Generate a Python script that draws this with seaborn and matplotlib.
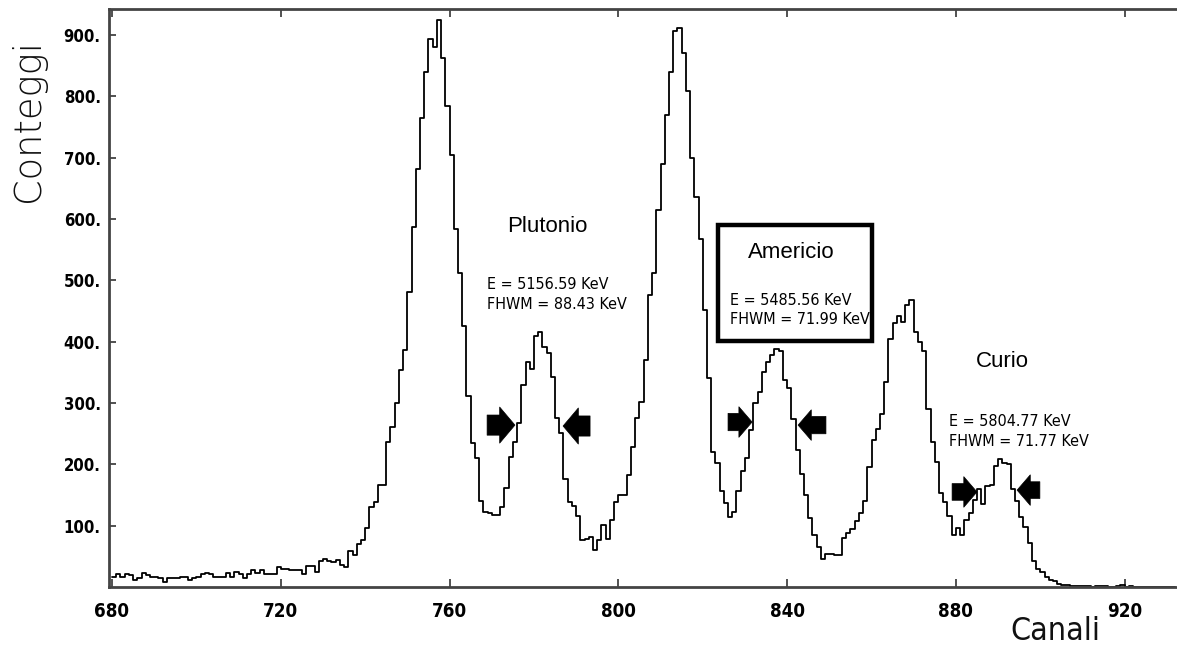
import numpy as np
import pandas as pd
import matplotlib
matplotlib.use("Agg")
import matplotlib.pyplot as plt
from matplotlib.ticker import FixedLocator, FuncFormatter
from matplotlib.patches import Rectangle
from matplotlib import font_manager
import seaborn as sns

# ---- data -------------------------------------------------------------
first_channel = 680
counts = [
    16, 21, 17, 21, 19, 11, 15, 23, 19, 16,      # 680-689
    16, 15, 8, 15, 15, 15, 17, 17, 11, 14,       # 690-699
    17, 22, 23, 21, 16, 16, 16, 23, 16, 24,      # 700-709
    22, 14, 22, 27, 23, 28, 22, 21, 21, 32,      # 710-719
    30, 30, 28, 28, 28, 21, 35, 34, 24, 42,      # 720-729
    45, 42, 41, 44, 36, 33, 58, 52, 70, 76,      # 730-739
    97, 130, 139, 166, 166, 236, 261, 300, 354, 387,   # 740-749
    481, 587, 682, 765, 840, 893, 881, 924, 863, 785,  # 750-759
    705, 584, 512, 426, 311, 235, 210, 140, 123, 120,  # 760-769
    118, 118, 131, 161, 212, 237, 267, 329, 367, 355,  # 770-779
    409, 416, 392, 381, 343, 275, 251, 176, 139, 132,  # 780-789
    115, 76, 79, 81, 60, 76, 101, 78, 109, 139,        # 790-799
    150, 150, 183, 228, 275, 302, 370, 476, 512, 615,  # 800-809
    690, 769, 840, 906, 912, 871, 809, 699, 636, 567,  # 810-819
    452, 341, 220, 202, 156, 137, 114, 122, 156, 189,  # 820-829
    210, 256, 300, 318, 350, 367, 378, 388, 385, 338,  # 830-839
    324, 274, 223, 185, 150, 112, 84, 66, 46, 54,      # 840-849
    54, 52, 52, 80, 88, 94, 107, 120, 140, 195,        # 850-859
    240, 258, 282, 335, 405, 430, 442, 432, 460, 468,  # 860-869
    416, 400, 385, 291, 237, 204, 153, 139, 115, 85,   # 870-879
    96, 85, 109, 120, 142, 160, 135, 165, 166, 198,    # 880-889
    208, 202, 200, 160, 141, 114, 98, 71, 42, 30,      # 890-899
    24, 16, 12, 9, 5, 3, 3, 2, 2, 2,                   # 900-909
    2, 2, 0, 2, 2, 2, 0, 0, 2, 3,                      # 910-919
    0, 2, 0, 0, 0, 0, 0, 0, 0, 0,                      # 920-929
    0, 0,                                              # 930-931
]
channels = list(range(first_channel, first_channel + len(counts)))

x_ticks = [680, 720, 760, 800, 840, 880, 920]
y_ticks = [100, 200, 300, 400, 500, 600, 700, 800, 900]

peak_names = ["Plutonio", "Americio", "Curio"]
peak_info = ["E = 5156.59 KeV\nFHWM = 88.43 KeV",
             "E = 5485.56 KeV\nFHWM = 71.99 KeV",
             "E = 5804.77 KeV\nFHWM = 71.77 KeV"]
x_label = "Canali"
y_label = "Conteggi"

# ---- figure -----------------------------------------------------------
sns.set_style("white")
plt.rcParams["font.family"] = ["Liberation Sans", "DejaVu Sans"]
plt.rcParams["text.color"] = "black"

# condensed face for the narrow texts
cond_regular = font_manager.FontProperties(family="DejaVu Sans", stretch="condensed")
cond_bold = font_manager.FontProperties(family="DejaVu Sans", stretch="condensed",
                                        weight="bold")

fig = plt.figure(figsize=(11.77, 6.54), dpi=100)
ax = fig.add_axes([109 / 1177, 1 - 587 / 654, 1 - 109 / 1177, (587 - 9) / 654])

df = pd.DataFrame({"channel": channels, "count": counts})
sns.histplot(data=df, x="channel", weights="count", binwidth=1,
             binrange=(first_channel, first_channel + len(counts)),
             element="step", fill=False, color="black", linewidth=1.3, ax=ax)

ax.set_xlim(679.29, 932.4)
ax.set_ylim(0, 942.5)
ax.set_xlabel("")
ax.set_ylabel("")

ax.xaxis.set_major_locator(FixedLocator(x_ticks))
ax.yaxis.set_major_locator(FixedLocator(y_ticks))
ax.yaxis.set_major_formatter(FuncFormatter(lambda v, p: f"{int(v)}."))
ax.tick_params(axis="x", direction="in", length=6, width=1.2, colors="#333333",
               top=True, bottom=True, pad=11, labelcolor="black")
ax.tick_params(axis="y", direction="in", length=5, width=1.2, colors="#333333",
               left=True, right=False, pad=6, labelcolor="black")
for lab in ax.get_xticklabels():
    lab.set_fontproperties(cond_bold)
    lab.set_fontsize(13.5)
for lab in ax.get_yticklabels():
    lab.set_fontproperties(cond_bold)
    lab.set_fontsize(12)

for side in ["left", "bottom", "top"]:
    ax.spines[side].set_color("#444444")
    ax.spines[side].set_linewidth(2)
ax.spines["right"].set_visible(False)

# axis titles placed like the original
fig.text(28 / 1177, 1 - 120 / 654, y_label, rotation=90, ha="center", va="center",
         fontsize=26.5, family=["DejaVu Sans"], fontweight="light", color="#111111")
t = fig.text(1055 / 1177, 1 - 632 / 654, x_label, ha="center", va="center",
             fontproperties=cond_regular, color="#111111")
t.set_fontsize(23)

# ---- annotations ---------------------------------------------------------
def info_text(x, y, s):
    tt = ax.text(x, y, s, ha="left", va="center", fontproperties=cond_regular,
                 linespacing=1.4, color="black")
    tt.set_fontsize(11.5)


ax.text(783.1, 588.6, peak_names[0], ha="center", va="center", fontsize=16,
        color="black")
info_text(768.9, 477, peak_info[0])

ax.add_patch(Rectangle((823.6, 401), 860.1 - 823.6, 590 - 401, fill=False,
                       edgecolor="black", linewidth=3.2, zorder=5))
ax.text(840.9, 546, peak_names[1], ha="center", va="center", fontsize=16,
        color="black")
info_text(826.4, 451.7, peak_info[1])

ax.text(890.9, 366.9, peak_names[2], ha="center", va="center", fontsize=16,
        color="black")
info_text(878.3, 253.5, peak_info[2])


def block_arrow(tail, tip, y, head_w, tail_w, head_l):
    ax.annotate("", xy=(tip, y), xytext=(tail, y),
                arrowprops=dict(arrowstyle=f"simple,head_length={head_l},"
                                f"head_width={head_w},tail_width={tail_w}",
                                fc="black", ec="black", lw=0.5,
                                shrinkA=0, shrinkB=0, mutation_scale=10))


block_arrow(768.9, 775.5, 264, 2.6, 1.45, 1.1)
block_arrow(793.3, 786.9, 262.5, 2.6, 1.45, 1.1)
block_arrow(826.0, 831.7, 269, 2.2, 1.25, 0.95)
block_arrow(849.2, 842.6, 264, 2.2, 1.25, 0.95)
block_arrow(879.1, 885.0, 155, 2.2, 1.2, 0.95)
block_arrow(899.9, 894.5, 158, 2.2, 1.2, 0.95)

fig.savefig("out.png", dpi=100)
